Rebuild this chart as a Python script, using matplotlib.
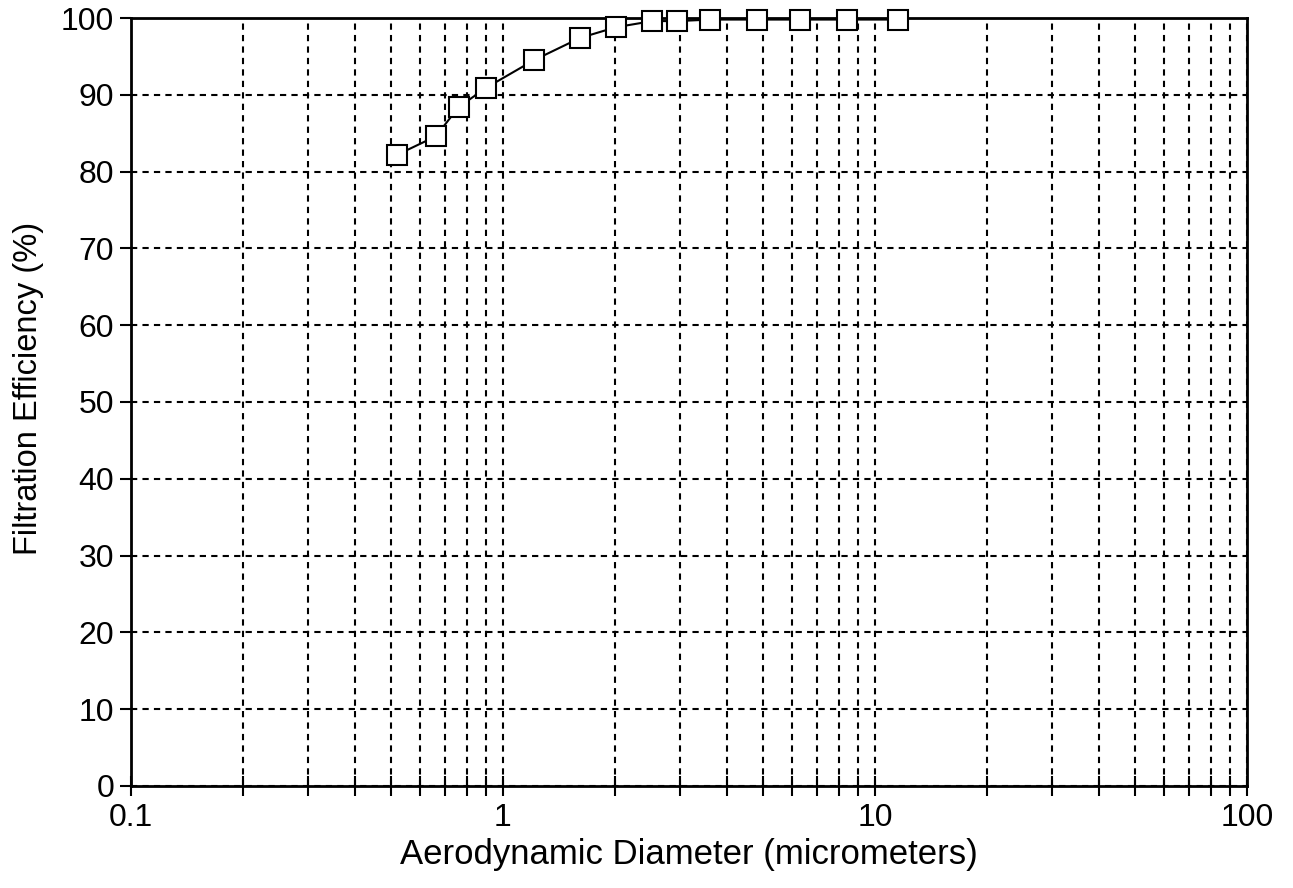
import numpy as np
import matplotlib
matplotlib.use("Agg")
import matplotlib.pyplot as plt
from matplotlib.ticker import FixedLocator, NullFormatter

# measured filtration efficiency vs aerodynamic diameter
diameter = [0.52, 0.66, 0.76, 0.90, 1.21, 1.61, 2.01, 2.52, 2.94, 3.61, 4.83, 6.27, 8.42, 11.5]
efficiency = [82.2, 84.6, 88.4, 90.9, 94.5, 97.4, 98.8, 99.6, 99.6, 99.8, 99.8, 99.8, 99.8, 99.8]

x_major = [0.1, 1, 10, 100]
x_major_labels = ["0.1", "1", "10", "100"]
y_ticks = list(range(0, 101, 10))

plt.rcParams['font.family'] = ['Liberation Sans', 'DejaVu Sans']

fig = plt.figure(figsize=(12.93, 8.88), dpi=100)
ax = fig.add_axes([0.1013, 0.1149, 0.8631, 0.8648])

ax.plot(diameter, efficiency, color="black", linewidth=1.5, marker="s",
        markersize=14, markerfacecolor="white", markeredgecolor="black",
        markeredgewidth=1.5, zorder=5, clip_on=False)

ax.set_xscale("log")
ax.set_xlim(0.1, 100)
ax.set_ylim(0, 100)

minor = [m * 10.0 ** e for e in (-1, 0, 1) for m in range(2, 10)]
ax.xaxis.set_major_locator(FixedLocator(x_major))
ax.xaxis.set_minor_locator(FixedLocator(minor))
ax.xaxis.set_minor_formatter(NullFormatter())
ax.set_xticklabels(x_major_labels)
ax.set_yticks(y_ticks)

ax.grid(True, which="both", axis="x", linestyle=(0, (3, 2.5)), color="black", linewidth=1.5)
ax.grid(True, which="major", axis="y", linestyle=(0, (3, 2.5)), color="black", linewidth=1.5)

ax.tick_params(axis="x", which="both", direction="inout", length=14, width=1.5,
               labelsize=23, pad=5)
ax.tick_params(axis="y", which="major", direction="out", length=8, width=1.5,
               labelsize=23, pad=4)

for s in ax.spines.values():
    s.set_linewidth(2)
    s.set_color("black")

ax.set_xlabel("Aerodynamic Diameter (micrometers)", fontsize=25, labelpad=4)
ax.set_ylabel("Filtration Efficiency (%)", fontsize=23.5)
ax.yaxis.set_label_coords(-0.078, 0.518)

fig.savefig("out.png", dpi=100)
